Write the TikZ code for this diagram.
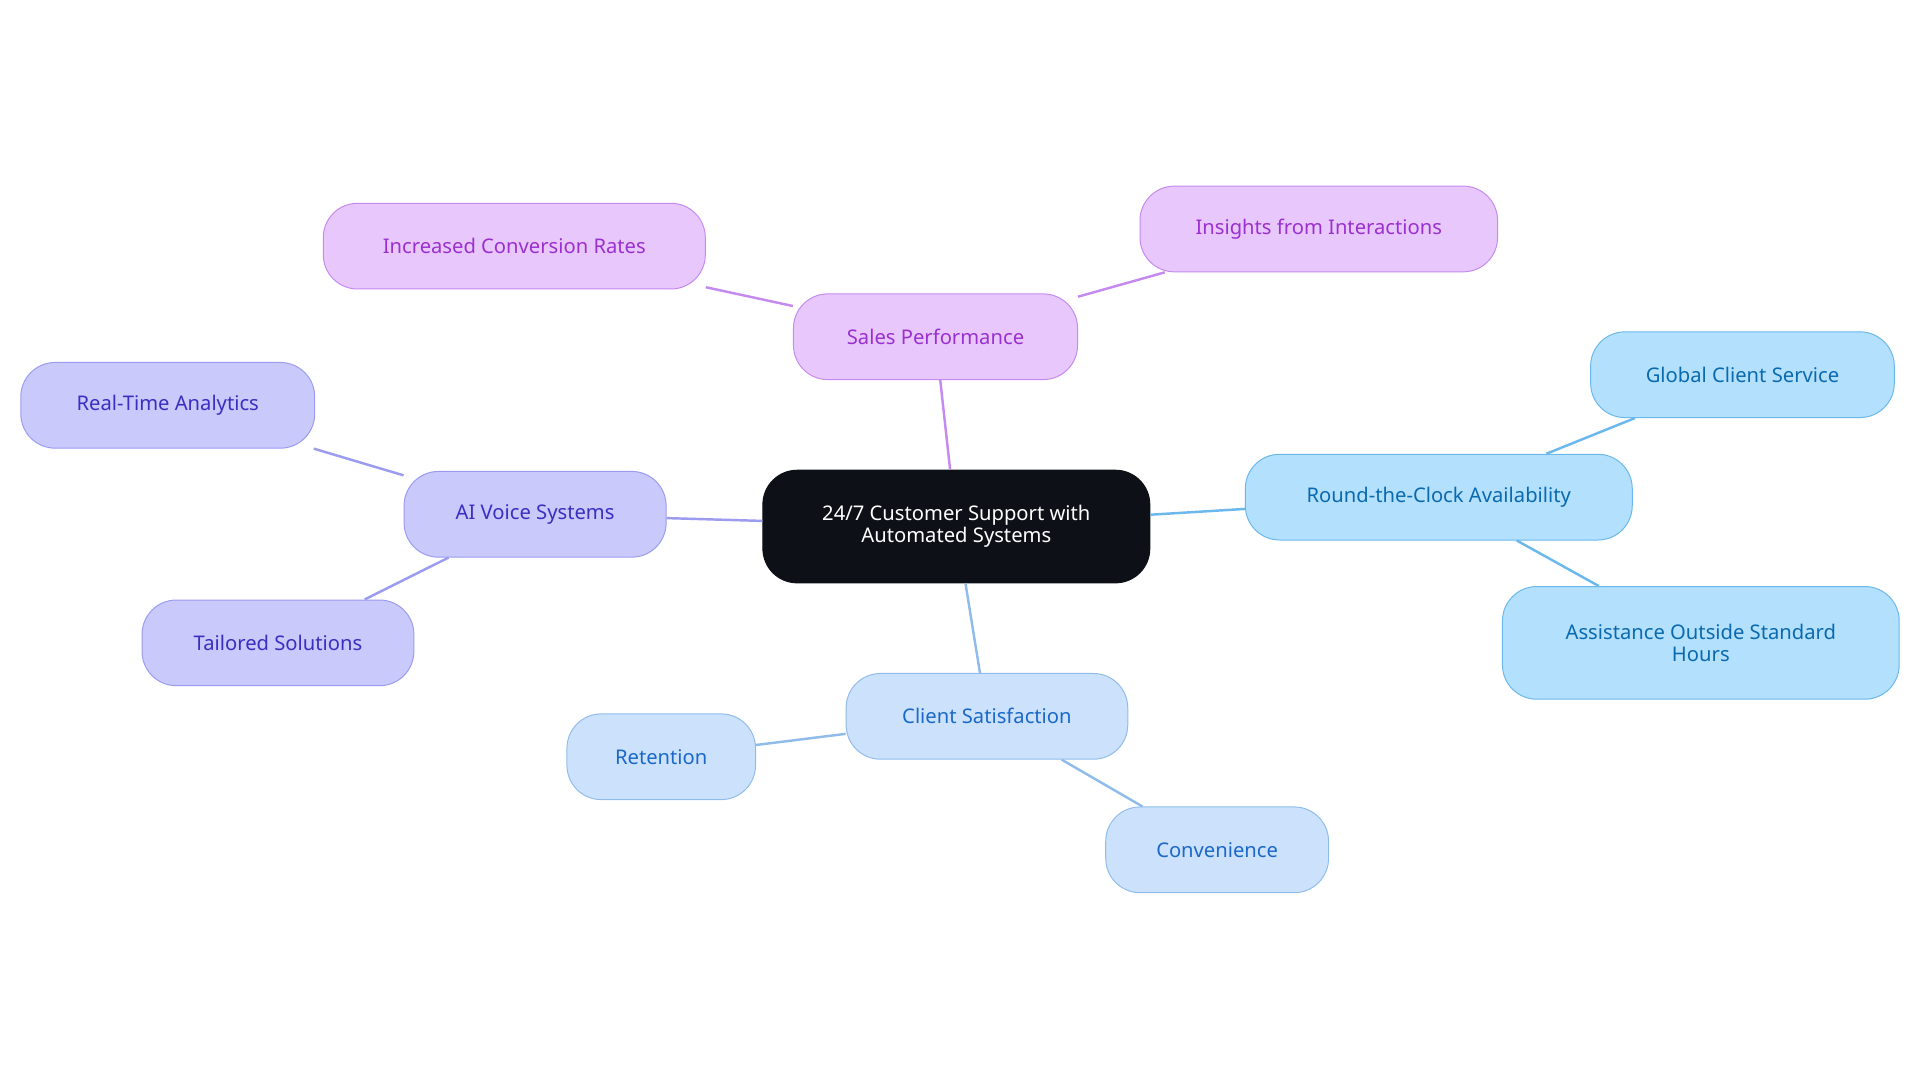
\documentclass[tikz,border=0pt]{standalone}
\usepackage{fontspec}
\setmainfont{Noto Sans}
\definecolor{rootfill}{HTML}{0D1117}
\definecolor{salesfill}{HTML}{E8C8FC}\definecolor{salesdraw}{HTML}{C58AF0}\definecolor{salestext}{HTML}{9B30D0}
\definecolor{voicefill}{HTML}{C9C9FC}\definecolor{voicedraw}{HTML}{9B9BF0}\definecolor{voicetext}{HTML}{3A2FC0}
\definecolor{clockfill}{HTML}{B3E0FC}\definecolor{clockdraw}{HTML}{6AB8EC}\definecolor{clocktext}{HTML}{0A6AB0}
\definecolor{satfill}{HTML}{CCE2FC}\definecolor{satdraw}{HTML}{90BCEC}\definecolor{sattext}{HTML}{1A68C8}
\tikzset{
  box/.style={rounded corners=28pt, minimum height=70pt, align=center, font=\fontsize{16.5}{18}\selectfont, line width=0.8pt},
  sales/.style={box, fill=salesfill, draw=salesdraw, text=salestext},
  voice/.style={box, fill=voicefill, draw=voicedraw, text=voicetext},
  clock/.style={box, fill=clockfill, draw=clockdraw, text=clocktext},
  sat/.style={box, fill=satfill, draw=satdraw, text=sattext},
  link/.style={line width=2pt}
}
\begin{document}
\begin{tikzpicture}[x=1pt,y=-1pt]
  \useasboundingbox (0,0) rectangle (1568,884);
  % links first
  \coordinate (r) at (781,430);
  \node[box, fill=rootfill, draw=rootfill, text=white, minimum width=316pt, minimum height=92pt] (root) at (781,430) {24/7 Customer Support with\\Automated Systems};

  \node[sales, minimum width=232pt] (sp) at (764,275) {Sales Performance};
  \node[sales, minimum width=312pt] (icr) at (420,201) {Increased Conversion Rates};
  \node[sales, minimum width=292pt] (ifi) at (1077,187) {Insights from Interactions};

  \node[voice, minimum width=214pt] (ai) at (437,420) {AI Voice Systems};
  \node[voice, minimum width=240pt] (rta) at (137,331) {Real-Time Analytics};
  \node[voice, minimum width=222pt] (ts) at (227,525) {Tailored Solutions};

  \node[clock, minimum width=316pt] (rca) at (1175,406) {Round-the-Clock Availability};
  \node[clock, minimum width=248pt] (gcs) at (1423,306) {Global Client Service};
  \node[clock, minimum width=324pt, minimum height=92pt] (aos) at (1389,525) {Assistance Outside Standard\\Hours};

  \node[sat, minimum width=230pt] (cs) at (806,585) {Client Satisfaction};
  \node[sat, minimum width=154pt] (ret) at (540,618) {Retention};
  \node[sat, minimum width=182pt] (conv) at (994,694) {Convenience};

  \begin{scope}[on background layer/.style={}]
  \end{scope}
  \draw[link, salesdraw] (root) -- (sp);
  \draw[link, salesdraw] (sp) -- (icr);
  \draw[link, salesdraw] (sp) -- (ifi);
  \draw[link, voicedraw] (root) -- (ai);
  \draw[link, voicedraw] (ai) -- (rta);
  \draw[link, voicedraw] (ai) -- (ts);
  \draw[link, clockdraw] (root) -- (rca);
  \draw[link, clockdraw] (rca) -- (gcs);
  \draw[link, clockdraw] (rca) -- (aos);
  \draw[link, satdraw] (root) -- (cs);
  \draw[link, satdraw] (cs) -- (ret);
  \draw[link, satdraw] (cs) -- (conv);
\end{tikzpicture}
\end{document}
